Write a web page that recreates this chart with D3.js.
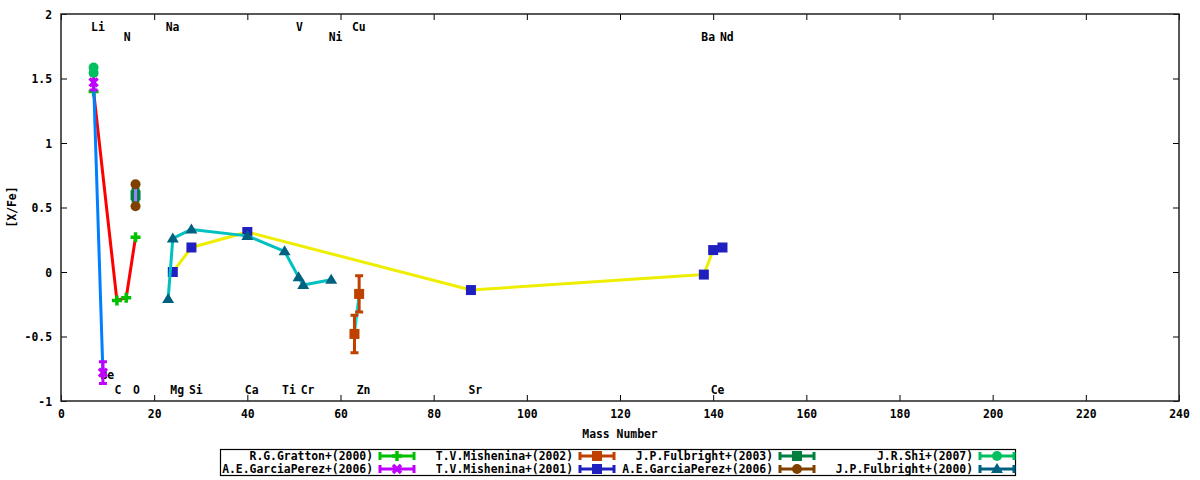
<!DOCTYPE html>
<html><head><meta charset="utf-8">
<script src="https://cdn.jsdelivr.net/npm/d3@7"></script>
<style>
body{margin:0;background:#fff}
svg{display:block}
text{font-family:"DejaVu Sans Mono","Liberation Mono",monospace;font-weight:bold;font-size:11.4px;fill:#000}
</style>
</head><body>
<svg id="c" width="1200" height="480"></svg>
<script>
// ---- axis ticks ----
const xTicks = [0,20,40,60,80,100,120,140,160,180,200,220,240];
const yTicks = [-1,-0.5,0,0.5,1,1.5,2];

// ---- element labels: [name, mass, row y value] ----
const elementLabels = [
  ["Li",7,1.90],["Na",23,1.90],["V",51,1.90],["Cu",63,1.90],
  ["N",14,1.82],["Ni",58,1.82],["Ba",138,1.82],["Nd",142,1.82],
  ["Be",9,-0.80],
  ["C",12,-0.915],["O",16,-0.915],["Mg",24,-0.915],["Si",28,-0.915],["Ca",40,-0.915],
  ["Ti",48,-0.915],["Cr",52,-0.915],["Zn",64,-0.915],["Sr",88,-0.915],["Ce",140,-0.915]
];

// ---- series data: [mass, [X/Fe], error] ----
const gratton2000     = [[7,1.40,0],[12,-0.22,0],[14,-0.20,0],[16,0.27,0]];
const garciaPerez2006a= [[7,1.47,0.06],[9,-0.78,0.085]];
const mishenina2002   = [[63,-0.48,0.145],[64,-0.17,0.14]];
const mishenina2001   = [[24,0.00,0],[28,0.19,0],[40,0.31,0],[88,-0.14,0],[138,-0.02,0],[140,0.17,0],[142,0.19,0]];
const fulbright2003   = [[16,0.595,0.045]];
const garciaPerez2006b= [[16,0.68,0],[16,0.51,0]];
const shi2007         = [[7,1.585,0],[7,1.545,0]];
const fulbright2000   = [[23,-0.21,0],[24,0.26,0],[28,0.33,0],[40,0.28,0],[48,0.16,0],[51,-0.04,0],[52,-0.10,0],[58,-0.06,0]];

const seriesNames = ["R.G.Gratton+(2000)","A.E.GarciaPerez+(2006)","T.V.Mishenina+(2002)","T.V.Mishenina+(2001)",
                     "J.P.Fulbright+(2003)","A.E.GarciaPerez+(2006)","J.R.Shi+(2007)","J.P.Fulbright+(2000)"];

const series = [
  {name:seriesNames[0], data:gratton2000,      line:"#ff0000", color:"#00c000", shape:"plus"},
  {name:seriesNames[1], data:garciaPerez2006a, line:"#0080ff", color:"#c000ff", shape:"cross"},
  {name:seriesNames[2], data:mishenina2002,    line:"#00e0e0", color:"#c04000", shape:"square"},
  {name:seriesNames[3], data:mishenina2001,    line:"#eeee00", color:"#2020c0", shape:"square"},
  {name:seriesNames[4], data:fulbright2003,    line:"#ffc020", color:"#008040", shape:"square"},
  {name:seriesNames[5], data:garciaPerez2006b, line:"#a080ff", color:"#804000", shape:"circle"},
  {name:seriesNames[6], data:shi2007,          line:"#00c060", color:"#00c060", shape:"circle"},
  {name:seriesNames[7], data:fulbright2000,    line:"#00c0c0", color:"#006080", shape:"triangle"}
];

const svg = d3.select("#c");
const L=61, R=1179, T=14, B=401;
const x = d3.scaleLinear().domain([0,240]).range([L,R]);
const y = d3.scaleLinear().domain([-1,2]).range([B,T]);

// axes
const gx = svg.append("g").attr("transform",`translate(0,${B})`)
  .call(d3.axisBottom(x).tickValues(xTicks).tickSizeInner(-6).tickSizeOuter(0).tickPadding(9).tickFormat(d3.format("d")));
const gy = svg.append("g").attr("transform",`translate(${L},0)`)
  .call(d3.axisLeft(y).tickValues(yTicks).tickSizeInner(-6).tickSizeOuter(0).tickPadding(9).tickFormat(d=>String(d)));
const gt = svg.append("g").attr("transform",`translate(0,${T})`)
  .call(d3.axisTop(x).tickValues(xTicks).tickSizeInner(-6).tickSizeOuter(0).tickFormat(""));
const gr = svg.append("g").attr("transform",`translate(${R},0)`)
  .call(d3.axisRight(y).tickValues(yTicks).tickSizeInner(-6).tickSizeOuter(0).tickFormat(""));
[gx,gy,gt,gr].forEach(g=>{
  g.select(".domain").remove();
  g.selectAll("line").attr("stroke","#000").attr("stroke-width",1);
  g.selectAll("text").attr("font-family",null).attr("font-size",null).style("fill","#000");
});
gx.selectAll("text").attr("dy","0.71em");
gy.selectAll("text").attr("dy","0.35em");

// axis titles
svg.append("text").attr("x",620).attr("y",434).attr("text-anchor","middle").attr("dominant-baseline","central").text("Mass Number");
svg.append("text").attr("transform","translate(12,207) rotate(-90)").attr("text-anchor","middle").attr("dominant-baseline","central").text("[X/Fe]");

// element labels
svg.append("g").selectAll("text").data(elementLabels).join("text")
  .attr("x",d=>x(d[1])-2.5).attr("y",d=>y(d[2]))
  .attr("text-anchor","start").attr("dominant-baseline","central").text(d=>d[0]);

function marker(g, shape, color, cx, cy){
  if(shape==="plus"){
    g.append("path").attr("d",`M${cx-5},${cy}H${cx+5}M${cx},${cy-5}V${cy+5}`).attr("stroke",color).attr("stroke-width",3.5).attr("fill","none");
  } else if(shape==="cross"){
    g.append("path").attr("d",`M${cx-4},${cy-4}L${cx+4},${cy+4}M${cx-4},${cy+4}L${cx+4},${cy-4}`).attr("stroke",color).attr("stroke-width",3.5).attr("fill","none");
  } else if(shape==="square"){
    g.append("rect").attr("x",cx-5).attr("y",cy-5).attr("width",10).attr("height",10).attr("fill",color);
  } else if(shape==="circle"){
    g.append("circle").attr("cx",cx).attr("cy",cy).attr("r",5).attr("fill",color);
  } else if(shape==="triangle"){
    g.append("path").attr("d",`M${cx},${cy-6}L${cx+6},${cy+4}L${cx-6},${cy+4}Z`).attr("fill",color);
  }
}

const plot = svg.append("g");
const lineGen = d3.line().x(d=>x(d[0])).y(d=>y(d[1]));
series.forEach(s=>{
  const g = plot.append("g");
  if(s.data.length>1){
    g.append("path").datum(s.data).attr("d",lineGen).attr("fill","none")
      .attr("stroke",s.line).attr("stroke-width",3).attr("stroke-linejoin","round");
  }
  s.data.forEach(d=>{
    const cx=x(d[0]), cy=y(d[1]);
    if(d[2]>0){
      const y1=y(d[1]+d[2]), y2=y(d[1]-d[2]);
      g.append("path").attr("d",`M${cx},${y1}V${y2}M${cx-4},${y1}H${cx+4}M${cx-4},${y2}H${cx+4}`)
        .attr("stroke",s.color).attr("stroke-width",3).attr("fill","none");
    }
    marker(g,s.shape,s.color,cx,cy);
  });
});

// border
svg.append("rect").attr("x",L).attr("y",T).attr("width",R-L).attr("height",B-T)
  .attr("fill","none").attr("stroke","#222").attr("stroke-width",1.5);

// legend
const lg = svg.append("g");
lg.append("rect").attr("x",220.5).attr("y",449.5).attr("width",795).attr("height",26)
  .attr("fill","none").attr("stroke","#000").attr("stroke-width",1.2);
const colEnd=[373,573,773,973], rowY=[456,469];
series.forEach((s,i)=>{
  const col=Math.floor(i/2), row=i%2;
  const tx=colEnd[col], ty=rowY[row];
  lg.append("text").attr("x",tx).attr("y",ty).attr("text-anchor","end").attr("dominant-baseline","central").text(s.name);
  const x1=tx+7, x2=tx+41;
  lg.append("path").attr("d",`M${x1},${ty}H${x2}M${x1},${ty-4}V${ty+4}M${x2},${ty-4}V${ty+4}`)
    .attr("stroke",s.color).attr("stroke-width",3).attr("fill","none");
  marker(lg,s.shape,s.color,(x1+x2)/2,ty);
});
</script>
</body></html>
